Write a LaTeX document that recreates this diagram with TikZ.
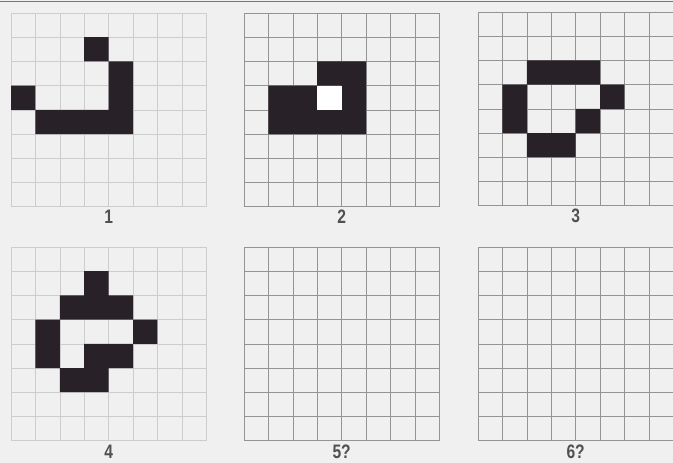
\documentclass[tikz,border=0pt]{standalone}
\usepackage{fontspec}
\setsansfont{Liberation Sans}[FakeStretch=0.8]
\usepackage{tikz}
\usetikzlibrary{positioning}
\usepackage{xcolor}
\definecolor{paper}{RGB}{240,240,240}
\definecolor{ink}{RGB}{40,34,40}
\definecolor{gridgray}{RGB}{148,148,148}
\definecolor{faintgray}{RGB}{205,205,205}
\definecolor{rulegray}{RGB}{120,120,120}

\begin{document}
\begin{tikzpicture}[x=1pt, y=-1pt,
    gridline/.style={line width=0.6pt},
    cell/.style={fill=ink},
    panellabel/.style={font=\sffamily\bfseries\fontsize{19.5}{20}\selectfont, text=ink!80, inner sep=0pt}]
  \fill[paper] (0,0) rectangle (673,463);
  \useasboundingbox (0,0) rectangle (673,463);
  % rule along the top edge
  \coordinate (ruleL) at (0,1.2);
  \coordinate (ruleR) at (673,1.2);
  \draw[rulegray, line width=1pt] (ruleL) -- (ruleR);
  % the six 8x8 boards
  \foreach \px/\py/\col/\name in {11/13/faintgray/g1, 244/13/gridgray/g2, 478/12/gridgray/g3,
                                  11/247/faintgray/g4, 244/247/gridgray/g5, 478/247/gridgray/g6} {
    \begin{scope}[shift={(\px,\py)}]
      \foreach \i in {0,...,8} {
        \draw[gridline, \col] (\i*24.4,0) -- (\i*24.4,193.6);
        \draw[gridline, \col] (0,\i*24.2) -- (195.2,\i*24.2);
      }
      \coordinate (\name) at (97.6,193.6);
    \end{scope}
  }
  % generation 1
  \begin{scope}[shift={(11,13)}]
    \fill[cell] \foreach \c/\r in {3/1, 4/2, 4/3, 0/3, 1/4, 2/4, 3/4, 4/4}
      {(\c*24.4,\r*24.2) rectangle ++(24.4,24.2)};
  \end{scope}
  % generation 2
  \begin{scope}[shift={(244,13)}]
    \fill[cell] \foreach \c/\r in {3/2, 4/2, 1/3, 2/3, 4/3, 1/4, 2/4, 3/4, 4/4}
      {(\c*24.4,\r*24.2) rectangle ++(24.4,24.2)};
    \fill[white] (3*24.4,3*24.2) rectangle ++(24.4,24.2);
  \end{scope}
  % generation 3
  \begin{scope}[shift={(478,12)}]
    \fill[cell] \foreach \c/\r in {2/2, 3/2, 4/2, 1/3, 5/3, 1/4, 4/4, 2/5, 3/5}
      {(\c*24.4,\r*24.2) rectangle ++(24.4,24.2)};
  \end{scope}
  % generation 4
  \begin{scope}[shift={(11,247)}]
    \fill[cell] \foreach \c/\r in {3/1, 2/2, 3/2, 4/2, 1/3, 5/3, 1/4, 3/4, 4/4, 2/5, 3/5}
      {(\c*24.4,\r*24.2) rectangle ++(24.4,24.2)};
  \end{scope}
  % labels
  \node[panellabel, below=3pt of g1] (lab1) {1};
  \node[panellabel, below=3pt of g2] (lab2) {2};
  \node[panellabel, below=3pt of g3] (lab3) {3};
  \node[panellabel, below=4.5pt of g4] (lab4) {4};
  \node[panellabel, below=4.5pt of g5] (lab5) {5?};
  \node[panellabel, below=4.5pt of g6] (lab6) {6?};
\end{tikzpicture}
\end{document}
